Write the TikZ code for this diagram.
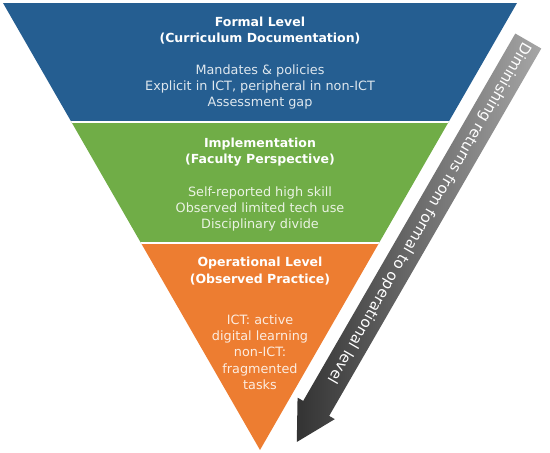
\documentclass[tikz,border=0pt]{standalone}
\usepackage{fontspec}
\setmainfont{DejaVu Sans}
\usetikzlibrary{shapes.arrows,positioning}
\definecolor{formalblue}{HTML}{255E91}
\definecolor{implgreen}{HTML}{70AD47}
\definecolor{operorange}{HTML}{ED7D31}

\begin{document}
\begin{tikzpicture}[x=1pt, y=-1pt,
    leveltitle/.style={align=center, text=white, font=\fontsize{12.5}{16.5}\selectfont\bfseries},
    levelbody/.style={align=center, font=\fontsize{12.8}{16.3}\selectfont}]
    \useasboundingbox (0,0) rectangle (550,453);

    % --- Inverted pyramid ---
    \begin{scope}
        \clip (3,3) -- (517,3) -- (260,450) -- cycle;
        \fill[formalblue] (0,0) rectangle (550,122);
        \fill[implgreen] (0,122) rectangle (550,243);
        \fill[operorange] (0,243) rectangle (550,453);
        \draw[white, line width=1.5pt] (0,122) -- (550,122);
        \draw[white, line width=1.5pt] (0,243) -- (550,243);
    \end{scope}

    % --- Formal level ---
    \node[leveltitle] (formal) at (260,30.5) {Formal Level\\(Curriculum Documentation)};
    \node[levelbody, text=white!85!formalblue] (formalbody) at (260,87)
        {Mandates \& policies\\Explicit in ICT, peripheral in non-ICT\\Assessment gap};

    % --- Implementation ---
    \node[leveltitle] (impl) at (260,152) {Implementation\\(Faculty Perspective)};
    \node[levelbody, text=white!85!implgreen] (implbody) at (260,209)
        {Self-reported high skill\\Observed limited tech use\\Disciplinary divide};

    % --- Operational level ---
    \node[leveltitle] (oper) at (260,271) {Operational Level\\(Observed Practice)};
    \node[levelbody, text=white!85!operorange] (operbody) at (260,352)
        {ICT: active\\digital learning\\non-ICT:\\fragmented\\tasks};

    % --- Trend arrow ---
    \node[single arrow, rotate=-120, minimum height=463pt, minimum width=43pt,
        single arrow head extend=6.5pt, single arrow tip angle=58,
        inner xsep=0pt, inner ysep=7.5pt,
        left color=black!80, right color=black!35, text=white,
        font=\fontsize{15}{15}\selectfont] (trend) at (419.3,229.8)
        {Diminishing returns from formal to operational level\hspace*{39pt}};
\end{tikzpicture}
\end{document}
